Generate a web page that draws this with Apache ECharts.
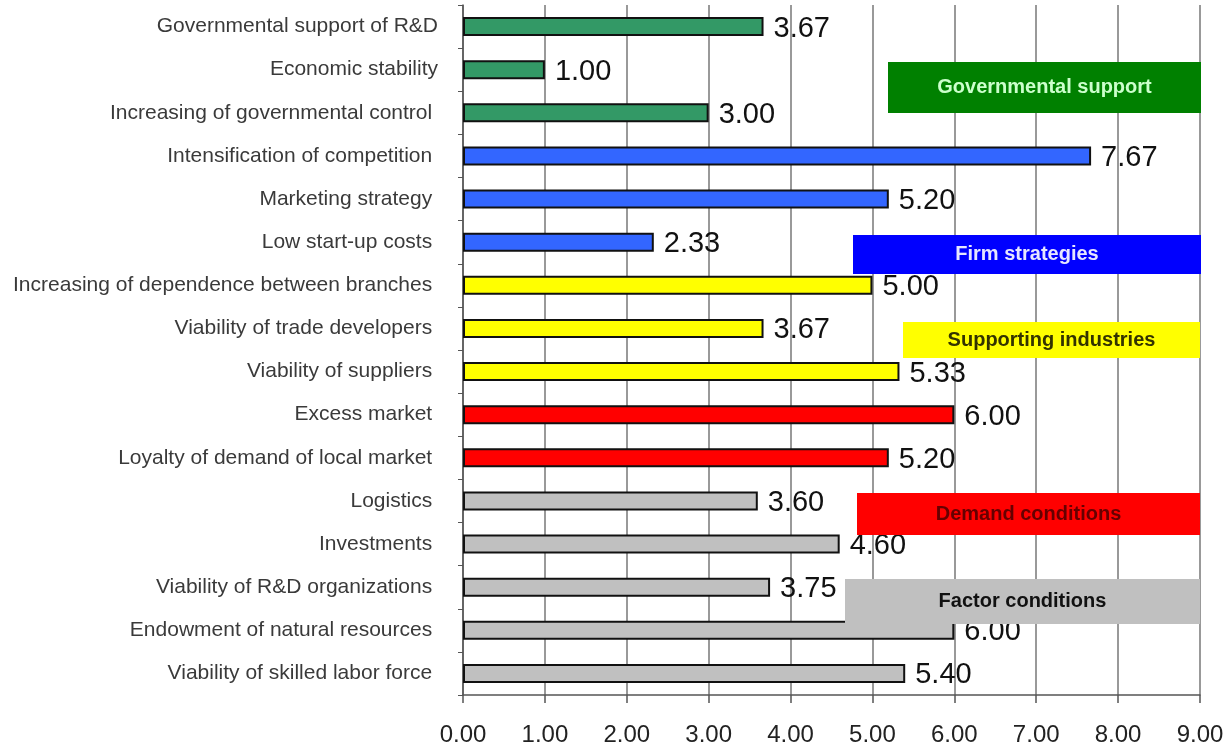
<!DOCTYPE html>
<html>
<head>
<meta charset="utf-8">
<style>
    html, body { margin: 0; padding: 0; background: #fff; }
    #chart { width: 1228px; height: 747px; }
</style>
<script src="https://cdn.jsdelivr.net/npm/echarts@6/dist/echarts.min.js"></script>
</head>
<body>
<div id="chart"></div>
<script>
// 类目（从上到下）
const categories = [
    'Governmental support of R&D',
    'Economic stability',
    'Increasing of governmental control ',
    'Intensification of competition ',
    'Marketing strategy ',
    'Low start-up costs ',
    'Increasing of dependence between branches ',
    'Viability of trade developers ',
    'Viability of suppliers ',
    'Excess market ',
    'Loyalty of demand of local market ',
    'Logistics ',
    'Investments ',
    'Viability of R&D organizations ',
    'Endowment of natural resources ',
    'Viability of skilled labor force '
]
const values = [3.67, 1.00, 3.00, 7.67, 5.20, 2.33, 5.00, 3.67, 5.33, 6.00, 5.20, 3.60, 4.60, 3.75, 6.00, 5.40]
// 每根柱子的分组
const groups = ['gov', 'gov', 'gov', 'firm', 'firm', 'firm', 'sup', 'sup', 'sup', 'dem', 'dem', 'fac', 'fac', 'fac', 'fac', 'fac']
const groupColors = { gov: '#339966', firm: '#3366ff', sup: '#ffff00', dem: '#ff0000', fac: '#c0c0c0' }
const xTicks = ['0.00', '1.00', '2.00', '3.00', '4.00', '5.00', '6.00', '7.00', '8.00', '9.00']

const chart = echarts.init(document.getElementById('chart'))

// 图例方框
function box(x, y, w, h, fill, text, textColor) {
    return {
        type: 'group',
        z: 100,
        children: [
            { type: 'rect', shape: { x: x, y: y, width: w, height: h }, style: { fill: fill }, z: 100 },
            {
                type: 'text', z: 101,
                style: {
                    x: x + w / 2, y: y + h / 2, text: text, fill: textColor,
                    font: 'bold 20px Arial', align: 'center', verticalAlign: 'middle'
                }
            }
        ]
    }
}

const option = {
    animation: false,
    grid: { left: 463, right: 28, top: 5, bottom: 50, containLabel: false },
    xAxis: {
        type: 'value',
        min: 0,
        max: 9,
        interval: 1,
        axisLine: { show: true, lineStyle: { color: '#555', width: 1.5 } },
        axisTick: { show: true, length: 8, lineStyle: { color: '#555', width: 1.5 } },
        axisLabel: {
            color: '#222', fontSize: 24, fontFamily: 'Arial', margin: 28,
            formatter: function (v) { return xTicks[Math.round(v)] }
        },
        splitLine: { show: true, lineStyle: { color: '#777', width: 1.5 } }
    },
    yAxis: {
        type: 'category',
        inverse: true,
        data: categories,
        axisLine: { show: true, lineStyle: { color: '#555', width: 1.5 } },
        axisTick: { show: true, length: 5, lineStyle: { color: '#555' } },
        axisLabel: { color: '#3a3a3a', fontSize: 21, fontFamily: 'Arial', margin: 25, padding: [4, 0, 0, 0] }
    },
    series: [
        {
            type: 'bar',
            barWidth: 19,
            data: values.map(function (v, i) {
                return { value: v, itemStyle: { color: groupColors[groups[i]] } }
            }),
            itemStyle: { borderColor: '#111', borderWidth: 2 },
            label: {
                show: true,
                position: 'right',
                distance: 10,
                offset: [0, 2],
                color: '#111',
                fontSize: 29,
                fontFamily: 'Arial',
                formatter: function (p) { return p.value.toFixed(2) }
            }
        }
    ],
    graphic: [
        box(888, 62, 313, 51, '#008000', 'Governmental support', '#ccffcc'),
        box(853, 235, 348, 39, '#0000ff', 'Firm strategies', '#e6e6ff'),
        box(903, 322, 297, 36, '#ffff00', 'Supporting industries', '#333300'),
        box(857, 493, 343, 42, '#ff0000', 'Demand conditions', '#660000'),
        box(845, 579, 355, 45, '#c0c0c0', 'Factor conditions', '#111')
    ]
}
chart.setOption(option)
window.addEventListener('resize', () => {
    chart.resize()
})
</script>
</body>
</html>
